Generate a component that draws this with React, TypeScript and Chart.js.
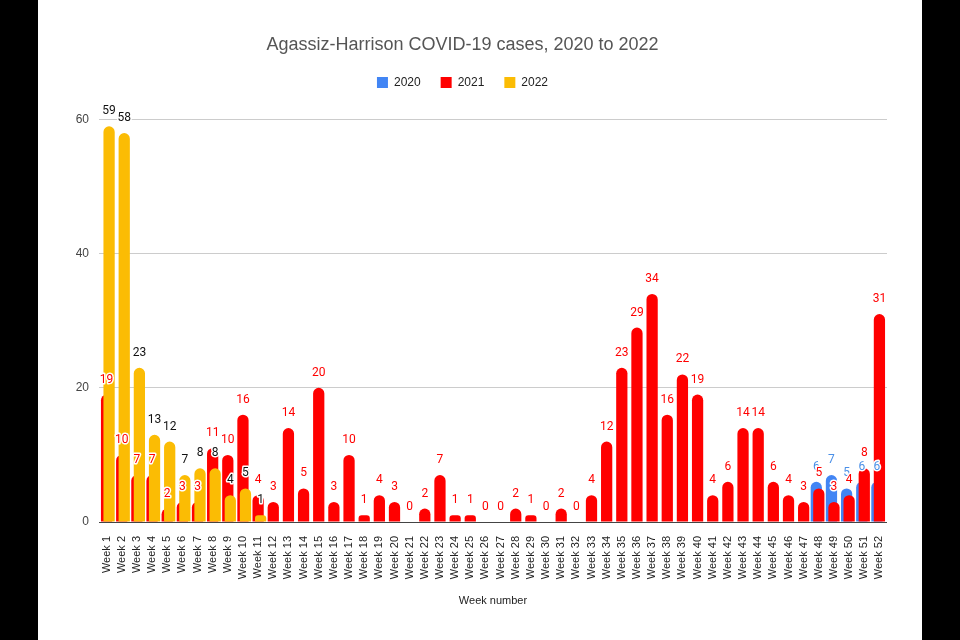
import React, { useEffect, useRef } from 'react';
import { Chart, registerables } from 'chart.js';

Chart.register(...registerables);

const weekLabels = [
  'Week 1', 'Week 2', 'Week 3', 'Week 4', 'Week 5', 'Week 6', 'Week 7', 'Week 8', 'Week 9', 'Week 10',
  'Week 11', 'Week 12', 'Week 13', 'Week 14', 'Week 15', 'Week 16', 'Week 17', 'Week 18', 'Week 19', 'Week 20',
  'Week 21', 'Week 22', 'Week 23', 'Week 24', 'Week 25', 'Week 26', 'Week 27', 'Week 28', 'Week 29', 'Week 30',
  'Week 31', 'Week 32', 'Week 33', 'Week 34', 'Week 35', 'Week 36', 'Week 37', 'Week 38', 'Week 39', 'Week 40',
  'Week 41', 'Week 42', 'Week 43', 'Week 44', 'Week 45', 'Week 46', 'Week 47', 'Week 48', 'Week 49', 'Week 50',
  'Week 51', 'Week 52',
];

const cases2020 = [
  null, null, null, null, null, null, null, null, null, null,
  null, null, null, null, null, null, null, null, null, null,
  null, null, null, null, null, null, null, null, null, null,
  null, null, null, null, null, null, null, null, null, null,
  null, null, null, null, null, null, null, 6, 7, 5,
  6, 6,
];

const cases2021 = [
  19, 10, 7, 7, 2, 3, 3, 11, 10, 16,
  4, 3, 14, 5, 20, 3, 10, 1, 4, 3,
  0, 2, 7, 1, 1, 0, 0, 2, 1, 0,
  2, 0, 4, 12, 23, 29, 34, 16, 22, 19,
  4, 6, 14, 14, 6, 4, 3, 5, 3, 4,
  8, 31,
];

const cases2022 = [
  59, 58, 23, 13, 12, 7, 8, 8, 4, 5,
  1, null, null, null, null, null, null, null, null, null,
  null, null, null, null, null, null, null, null, null, null,
  null, null, null, null, null, null, null, null, null, null,
  null, null, null, null, null, null, null, null, null, null,
  null, null,
];

const yTicks = [0, 20, 40, 60];

const seriesNames = ['2020', '2021', '2022'];
const barColors = ['#4285f4', '#ff0000', '#fbbc04'];
const labelColors = ['#4a8fe7', '#ff0000', '#111111'];

const axisFont = '"Liberation Sans", Arial, sans-serif';

const orderAndLabels = {
  id: 'orderAndLabels',
  beforeDatasetsDraw(chart: any) {
    const n = chart.data.datasets.length;
    for (let i = 0; i < n; i++) {
      const meta = chart.getDatasetMeta(i);
      if (!meta.hidden) meta.controller.draw();
    }
    const ctx = chart.ctx;
    ctx.save();
    ctx.font = '12px Roboto, "Liberation Sans", sans-serif';
    ctx.textAlign = 'center';
    ctx.textBaseline = 'middle';
    ctx.lineJoin = 'round';
    for (let i = 0; i < n; i++) {
      const meta = chart.getDatasetMeta(i);
      if (meta.hidden) continue;
      const data = chart.data.datasets[i].data;
      meta.data.forEach((el: any, j: number) => {
        const v = data[j];
        if (v === null || v === undefined) return;
        const x = el.x;
        const y = el.y - 15;
        ctx.lineWidth = 3;
        ctx.strokeStyle = '#ffffff';
        ctx.strokeText(String(v), x, y);
        ctx.fillStyle = labelColors[i];
        ctx.fillText(String(v), x, y);
      });
    }
    ctx.restore();
    return false;
  },
};

export default function App() {
  const canvasRef = useRef<HTMLCanvasElement | null>(null);

  useEffect(() => {
    if (!canvasRef.current) return;
    const datasets = [cases2020, cases2021, cases2022].map((d, i) => ({
      label: seriesNames[i],
      data: d,
      backgroundColor: barColors[i],
      borderWidth: 0,
      borderRadius: 6,
      borderSkipped: 'start' as const,
      categoryPercentage: 0.495,
      barPercentage: 4.5,
    }));
    const chart = new Chart(canvasRef.current, {
      type: 'bar',
      data: { labels: weekLabels, datasets },
      plugins: [orderAndLabels],
      options: {
        responsive: false,
        animation: false,
        devicePixelRatio: 1,
        layout: { padding: { left: 0, right: 35, top: 0, bottom: 0 } },
        plugins: {
          tooltip: { enabled: false },
          title: {
            display: true,
            text: 'Agassiz-Harrison COVID-19 cases, 2020 to 2022',
            color: '#555555',
            font: { family: axisFont, size: 18, weight: 'normal' },
            padding: { top: 34, bottom: 1 },
          },
          legend: {
            display: true,
            position: 'top',
            labels: {
              boxWidth: 11,
              boxHeight: 11,
              padding: 20,
              color: '#222222',
              font: { family: axisFont, size: 12 },
            },
          },
          subtitle: {
            display: true,
            text: '',
            weight: 500,
            font: { size: 10 },
            padding: { top: 9, bottom: 0 },
          } as any,
        },
        scales: {
          x: {
            grid: { display: false },
            border: { display: false },
            ticks: {
              autoSkip: false,
              minRotation: 90,
              maxRotation: 90,
              padding: 6,
              color: '#222222',
              font: { family: axisFont, size: 11 },
            },
            title: {
              display: true,
              text: 'Week number',
              color: '#222222',
              font: { family: axisFont, size: 11 },
              padding: { top: 0, bottom: 32 },
            },
            afterFit: (scale: any) => {
              scale.height = 118;
            },
          },
          y: {
            min: 0,
            max: 60,
            afterBuildTicks: (scale: any) => {
              scale.ticks = yTicks.map((v) => ({ value: v }));
            },
            grid: {
              drawTicks: false,
              color: (c: any) => (c.tick && c.tick.value === 0 ? '#444444' : '#cccccc'),
            },
            border: { display: false },
            ticks: {
              padding: 10,
              color: '#444444',
              font: { family: axisFont, size: 12 },
            },
            afterFit: (scale: any) => {
              scale.width = 61;
            },
          },
        },
      },
    });
    return () => chart.destroy();
  }, []);

  return (
    <div style={{ position: 'fixed', left: 0, top: 0, width: 960, height: 640, background: '#000' }}>
      <div style={{ position: 'absolute', left: 38, top: 0, width: 884, height: 640, background: '#fff' }}>
        <canvas ref={canvasRef} width={884} height={640} style={{ display: 'block' }} />
      </div>
    </div>
  );
}
